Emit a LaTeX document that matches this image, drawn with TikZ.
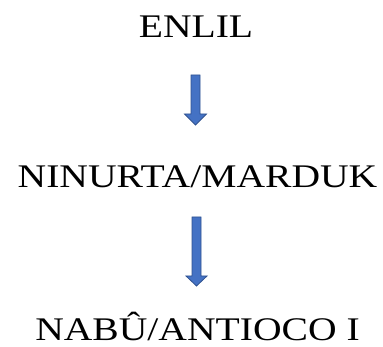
\documentclass[tikz,border=0pt]{standalone}
\usepackage{fontspec}
\setmainfont{Liberation Serif}[FakeStretch=1.2]
\usetikzlibrary{calc}
\definecolor{arrowfill}{HTML}{4472C4}
\definecolor{arrowline}{HTML}{2F528F}
\begin{document}
\begin{tikzpicture}[x=1pt,y=1pt,
  label/.style={anchor=base,inner sep=0pt,font=\fontsize{33}{36}\selectfont},
  blockarrow/.style={fill=arrowfill,draw=arrowline,line width=0.8pt,line join=miter}]
\useasboundingbox (0,0) rectangle (383,347);
\node[label] (enlil) at (196,309) {ENLIL};
\node[label] (ninurta) at (197.5,159) {NINURTA/MARDUK};
\node[label] (nabu) at (197.5,6) {NAB\^U/ANTIOCO I};
% arrow 1
\coordinate (a1top) at (195.5,272);
\coordinate (a1tip) at (195.5,222);
\draw[blockarrow] ($(a1top)+(-4.5,0)$) -- ($(a1top)+(4.5,0)$) -- ($(a1tip)+(4.5,11)$) -- ($(a1tip)+(11,11)$) -- (a1tip) -- ($(a1tip)+(-11,11)$) -- ($(a1tip)+(-4.5,11)$) -- cycle;
% arrow 2
\coordinate (a2top) at (196.5,130);
\coordinate (a2tip) at (196.5,61);
\draw[blockarrow] ($(a2top)+(-4.5,0)$) -- ($(a2top)+(4.5,0)$) -- ($(a2tip)+(4.5,10)$) -- ($(a2tip)+(10.5,10)$) -- (a2tip) -- ($(a2tip)+(-10.5,10)$) -- ($(a2tip)+(-4.5,10)$) -- cycle;
\end{tikzpicture}
\end{document}
